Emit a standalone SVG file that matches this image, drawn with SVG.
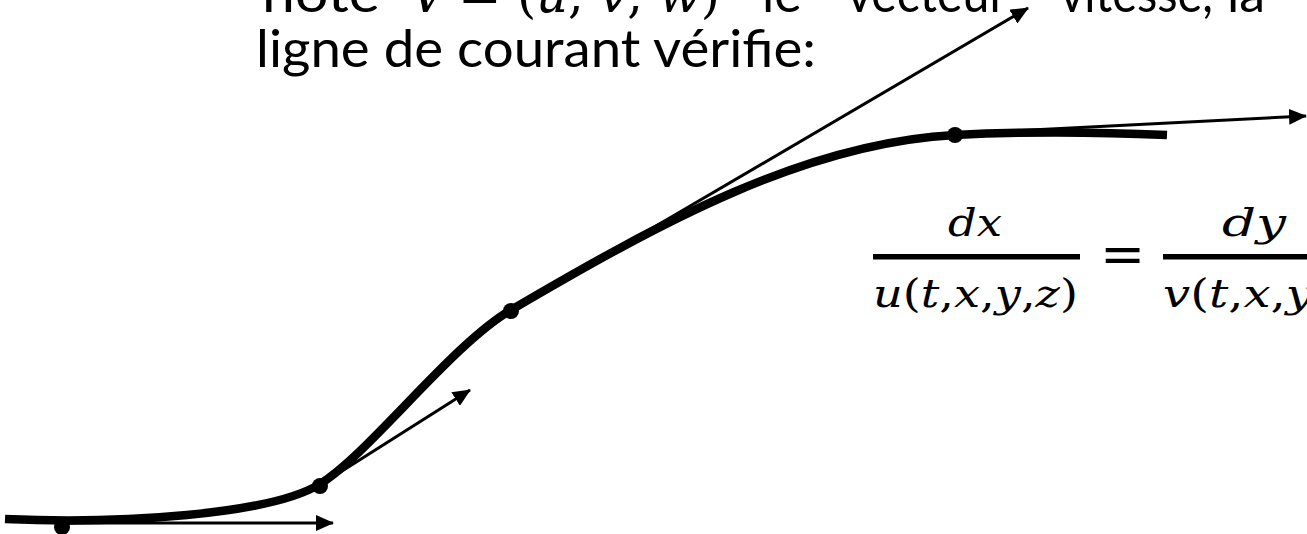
<svg xmlns="http://www.w3.org/2000/svg" width="1307" height="534" viewBox="0 0 1307 534">
<defs>
<marker id="ah" markerUnits="userSpaceOnUse" markerWidth="18" markerHeight="16" refX="17" refY="8" orient="auto" viewBox="0 0 18 16">
<path d="M0,0 L18,8 L0,16 z" fill="#000"/>
</marker>
<style>
.t{font-family:"Lato","Open Sans","Liberation Sans",sans-serif;font-size:52px;fill:#000}
.m{font-family:"DejaVu Serif","Liberation Serif",serif;font-style:italic;fill:#000}
.mu{font-family:"DejaVu Serif","Liberation Serif",serif;font-style:normal;fill:#000}
.curve{fill:none;stroke:#000;stroke-width:8.5}
.arr{fill:none;stroke:#000;stroke-width:3;marker-end:url(#ah)}
.dot{fill:#000}
</style>
</defs>
<rect width="1307" height="534" fill="#fff"/>
<g id="text">
<text class="t" x="262" y="12" textLength="118" lengthAdjust="spacingAndGlyphs">note</text>
<text class="m" x="410" y="12" font-size="52">V</text>
<text class="mu" x="458" y="12" font-size="52">=</text>
<text class="m" x="517" y="12" font-size="52" textLength="203" lengthAdjust="spacingAndGlyphs"><tspan class="mu">(</tspan>u<tspan class="mu">,</tspan> v<tspan class="mu">,</tspan> w<tspan class="mu">)</tspan></text>
<text class="t" x="762" y="12">le</text>
<text class="t" x="847" y="12" textLength="160" lengthAdjust="spacingAndGlyphs">vecteur</text>
<text class="t" x="1060" y="12" textLength="153" lengthAdjust="spacingAndGlyphs">vitesse,</text>
<text class="t" x="1227" y="12">la</text>
<text class="t" x="256" y="67" textLength="560" lengthAdjust="spacingAndGlyphs">ligne de courant vérifie:</text>
</g>
<g id="formula">
<text class="m" x="948" y="236" font-size="40" textLength="54" lengthAdjust="spacingAndGlyphs">dx</text>
<rect x="873" y="254" width="207" height="5.5" fill="#000"/>
<text class="m" x="873" y="307" font-size="40" textLength="205" lengthAdjust="spacingAndGlyphs">u<tspan class="mu">(</tspan>t<tspan class="mu">,</tspan>x<tspan class="mu">,</tspan>y<tspan class="mu">,</tspan>z<tspan class="mu">)</tspan></text>
<text class="mu" x="1100" y="273" font-size="54">=</text>
<text class="m" x="1222" y="236" font-size="40" textLength="64" lengthAdjust="spacingAndGlyphs">dy</text>
<rect x="1163" y="254" width="150" height="5.5" fill="#000"/>
<text class="m" x="1163" y="307" font-size="40" textLength="150" lengthAdjust="spacingAndGlyphs">v<tspan class="mu">(</tspan>t<tspan class="mu">,</tspan>x<tspan class="mu">,</tspan>y</text>
</g>
<g id="streamline">
<path class="curve" d="M5,519 C120,524 270,515 320,484 C370,453 451,345 511,310 C661,222 805,143 955,135 C1030,131 1100,132 1167,135"/>
</g>
<g id="connectors">
<line class="arr" x1="62" y1="523" x2="333" y2="523"/>
<line class="arr" x1="320" y1="485" x2="470" y2="390"/>
<line class="arr" x1="511" y1="311" x2="1028" y2="8"/>
<line class="arr" x1="955" y1="134" x2="1306" y2="116"/>
</g>
<g id="points">
<circle id="p1" class="dot" cx="62" cy="527" r="8"/>
<circle id="p2" class="dot" cx="320" cy="486" r="8"/>
<circle id="p3" class="dot" cx="511" cy="311" r="8"/>
<circle id="p4" class="dot" cx="955" cy="135" r="8"/>
</g>
</svg>
